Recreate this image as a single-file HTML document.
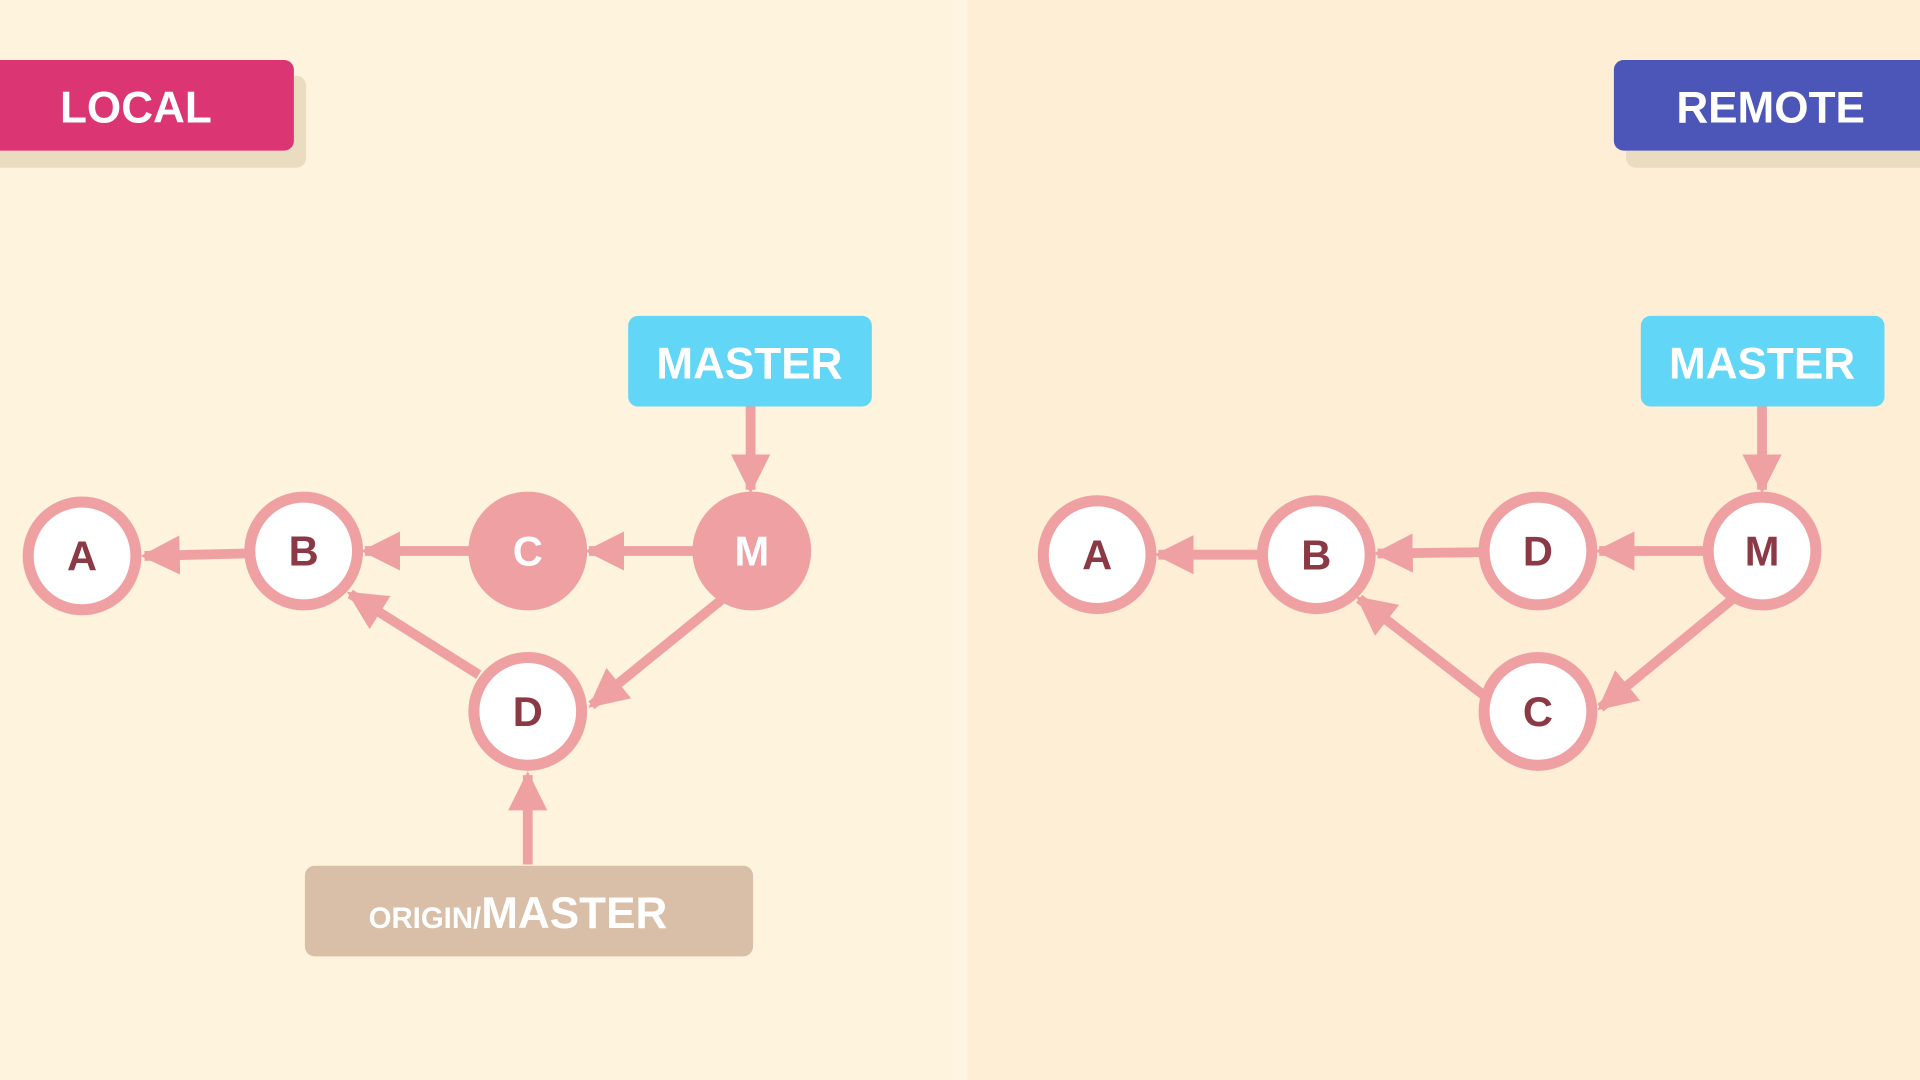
<!DOCTYPE html>
<html><head><meta charset="utf-8"><style>
html,body{margin:0;padding:0;width:1920px;height:1080px;overflow:hidden;background:#fef3dc}
svg{display:block}
text{font-family:"Liberation Sans",sans-serif;font-weight:bold}
</style></head><body>
<svg width="1920" height="1080" viewBox="0 0 1568 882" preserveAspectRatio="none" xmlns="http://www.w3.org/2000/svg">
<defs>
<marker id="ah" markerWidth="4" markerHeight="4" refX="3.6" refY="2" orient="auto" markerUnits="strokeWidth">
<path d="M0,0 L4,2 L0,4 Z" fill="#efa0a3"/>
</marker>
</defs>
<rect x="0" y="0" width="780" height="882" fill="#fef3dc"/>
<rect x="790" y="0" width="778" height="882" fill="#feeed5"/>
<rect x="778" y="0" width="12" height="882" fill="#fdf4e3"/>

<!-- LOCAL -->
<rect x="-10" y="62" width="260" height="75" rx="8" fill="#e9dcc1"/>
<rect x="-10" y="49" width="250" height="74" rx="8" fill="#dc3573"/>
<text x="111" y="100" font-size="36" fill="#fff" text-anchor="middle">LOCAL</text>
<!-- REMOTE -->
<rect x="1328" y="62" width="260" height="75" rx="8" fill="#e9dcc1"/>
<rect x="1318" y="49" width="260" height="74" rx="8" fill="#4b56b8"/>
<text x="1446" y="100" font-size="36" fill="#fff" text-anchor="middle">REMOTE</text>

<!-- MASTER boxes -->
<rect x="513" y="258" width="199" height="74" rx="8" fill="#62d6f6"/>
<text x="612" y="309" font-size="36" fill="#fff" text-anchor="middle">MASTER</text>
<rect x="1340" y="258" width="199" height="74" rx="8" fill="#62d6f6"/>
<text x="1439" y="309" font-size="36" fill="#fff" text-anchor="middle">MASTER</text>

<!-- ORIGIN/MASTER -->
<rect x="249" y="707" width="366" height="74" rx="8" fill="#d9bea8"/>
<text x="423" y="758" font-size="36" fill="#fff" text-anchor="middle"><tspan font-size="24">ORIGIN/</tspan>MASTER</text>

<g stroke="#efa0a3" stroke-width="8" fill="none" marker-end="url(#ah)">
<!-- left -->
<line x1="200" y1="452" x2="118" y2="454"/>
<line x1="383" y1="450" x2="298" y2="450"/>
<line x1="566" y1="450" x2="481" y2="450"/>
<line x1="613" y1="332" x2="613" y2="400"/>
<line x1="589" y1="490" x2="483" y2="576"/>
<line x1="391" y1="551" x2="286" y2="485"/>
<line x1="431" y1="706" x2="431" y2="633"/>
<!-- right -->
<line x1="1027" y1="453" x2="946" y2="453"/>
<line x1="1208" y1="451" x2="1125" y2="452"/>
<line x1="1391" y1="450" x2="1306" y2="450"/>
<line x1="1439" y1="332" x2="1439" y2="400"/>
<line x1="1414" y1="490" x2="1307" y2="578"/>
<line x1="1212" y1="568" x2="1110" y2="489"/>
</g>

<g stroke="#efa0a3" stroke-width="9" font-size="34" text-anchor="middle">
<circle cx="67" cy="454" r="44" fill="#fff"/>
<circle cx="248" cy="450" r="44" fill="#fff"/>
<circle cx="431" cy="450" r="44" fill="#efa0a3"/>
<circle cx="614" cy="450" r="44" fill="#efa0a3"/>
<circle cx="431" cy="581" r="44" fill="#fff"/>
<circle cx="896" cy="453" r="44" fill="#fff"/>
<circle cx="1075" cy="453" r="44" fill="#fff"/>
<circle cx="1256" cy="450" r="44" fill="#fff"/>
<circle cx="1439" cy="450" r="44" fill="#fff"/>
<circle cx="1256" cy="581" r="44" fill="#fff"/>
</g>
<g font-size="34" text-anchor="middle" fill="#8b3a45">
<text x="67" y="466">A</text>
<text x="248" y="462">B</text>
<text x="431" y="462" fill="#fff">C</text>
<text x="614" y="462" fill="#fff">M</text>
<text x="431" y="593">D</text>
<text x="896" y="465">A</text>
<text x="1075" y="465">B</text>
<text x="1256" y="462">D</text>
<text x="1439" y="462">M</text>
<text x="1256" y="593">C</text>
</g>
</svg>
</body></html>
